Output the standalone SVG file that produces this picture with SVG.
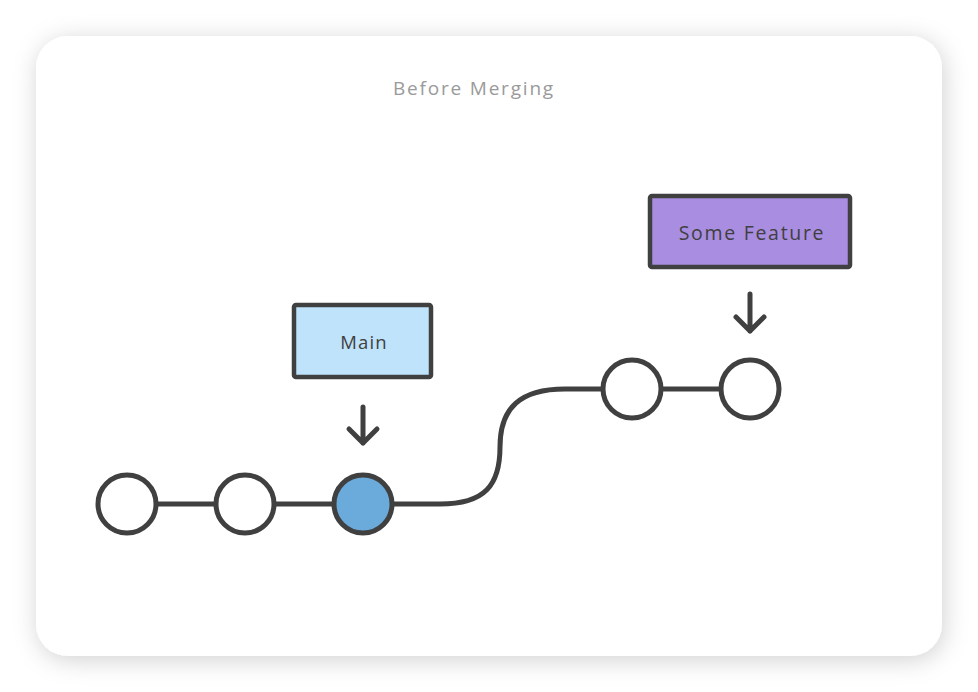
<svg xmlns="http://www.w3.org/2000/svg" width="978" height="692" viewBox="0 0 978 692">
<defs>
<filter id="sh" x="-10%" y="-10%" width="120%" height="125%">
<feDropShadow dx="2" dy="4" stdDeviation="12" flood-color="#000" flood-opacity="0.18"/>
</filter>
<style>
.ln{fill:none;stroke:#404040;stroke-width:5;stroke-linecap:round;stroke-linejoin:round}
.c{fill:#fff;stroke:#404040;stroke-width:5}
.box{stroke:#404040;stroke-width:4.5}
.t{font-family:"Open Sans","Liberation Sans",sans-serif;fill:#404040;text-anchor:middle}
</style>
</defs>
<rect x="0" y="0" width="978" height="692" fill="#fff"/>
<rect x="36" y="36" width="906" height="620" rx="32" fill="#fff" filter="url(#sh)"/>
<text x="474" y="95" class="t" font-size="19" style="fill:#9a9a9a" letter-spacing="1.8">Before Merging</text>
<g id="connectors">
<path class="ln" d="M157 504 H216 M275 504 H334 M392 504 H440 C485 504 500 485 500 447 C500 408 520 389 565 389 H603 M662 389 H721"/>
<path class="ln" d="M363 407 V443 M349 429 L363 443 L377 429"/>
<path class="ln" d="M750 294 V331 M736 317 L750 331 L764 317"/>
</g>
<g id="c1"><circle class="c" cx="127" cy="504" r="29"/></g>
<g id="c2"><circle class="c" cx="245" cy="504" r="29"/></g>
<g id="c3"><circle class="c" cx="363" cy="504" r="29" style="fill:#6aabdc"/></g>
<g id="c4"><circle class="c" cx="632" cy="389" r="29"/></g>
<g id="c5"><circle class="c" cx="750" cy="389" r="29"/></g>
<g id="main"><rect class="box" x="294" y="305" width="137" height="72" rx="2" fill="#bee3fb"/><text class="t" x="364" y="349" font-size="18.5" letter-spacing="1.2">Main</text></g>
<g id="feature"><rect class="box" x="650" y="196" width="200" height="71" rx="2" fill="#a98de0"/><text class="t" x="752" y="240" font-size="19.5" letter-spacing="1.7">Some Feature</text></g>
</svg>
